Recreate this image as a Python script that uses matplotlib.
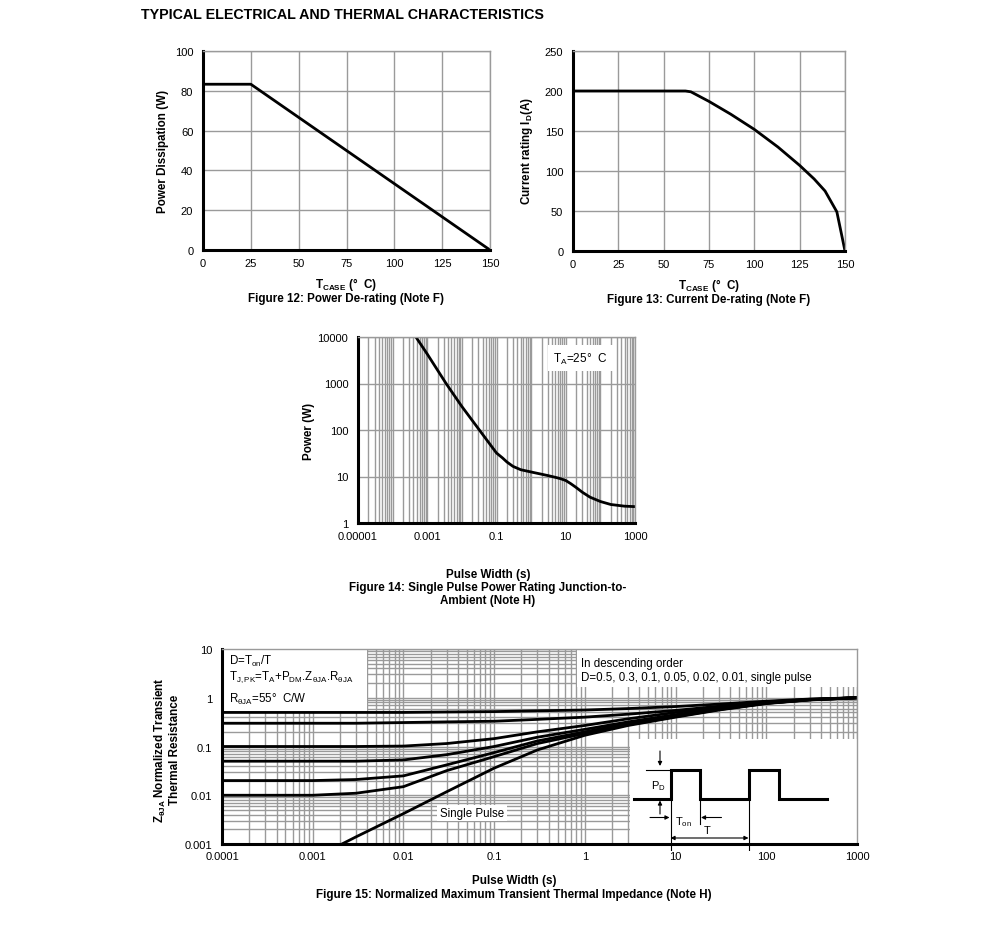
#!/usr/bin/env python3

import matplotlib
matplotlib.use("Agg")
import matplotlib.pyplot as plt
from matplotlib.patches import Rectangle
from matplotlib.ticker import LogLocator, NullFormatter

plt.rcParams['font.family'] = ['Liberation Sans', 'DejaVu Sans']
plt.rcParams['mathtext.fontset'] = 'custom'
plt.rcParams['mathtext.rm'] = 'Liberation Sans'
plt.rcParams['mathtext.bf'] = 'Liberation Sans:bold'
plt.rcParams['mathtext.it'] = 'Liberation Sans:italic'

W, H = 991, 953
GRID = '#9a9a9a'
LAB = 8.4   # bold axis labels / captions
TXT = 8.3   # annotation text

# figure 12: power de-rating
t12 = [0, 25, 150]
p12 = [83.3, 83.3, 0]

# figure 13: current de-rating
t13 = [0, 62, 65, 75, 87, 100, 113, 125, 133, 139, 145.5, 150]
i13 = [200, 200, 199, 187, 171, 152, 130, 107, 90, 75, 49, 0]

# figure 14: single pulse power rating
pw14 = [4.7e-4, 1e-3, 3.5e-3, 0.01, 0.032, 0.1, 0.15, 0.2, 0.3, 0.5, 1, 2, 3,
        5, 7, 10, 14, 20, 30, 50, 100, 200, 500, 1000]
pwr14 = [10000, 4300, 1000, 320, 100, 32, 25, 20.5, 16.5, 14, 12.5, 11.2, 10.5,
         9.6, 9.0, 8.2, 7.0, 5.8, 4.6, 3.6, 2.9, 2.5, 2.3, 2.25]
yt14 = [1, 10, 100, 1000, 10000]
yl14 = ['1', '10', '100', '1000', '10000']
xt14 = [1e-5, 1e-4, 1e-3, 1e-2, 1e-1, 1, 10, 100, 1000]
xl14 = ['0.00001', '', '0.001', '', '0.1', '', '10', '', '1000']

# figure 15: normalized transient thermal impedance
pw15 = [1e-4, 1e-3, 3e-3, 0.01, 0.03, 0.1, 0.3, 1, 3, 10, 30, 100, 300, 1000]
z_d05 = [0.5, 0.5, 0.5, 0.5, 0.51, 0.52, 0.54, 0.56, 0.6, 0.66, 0.74, 0.85, 0.94, 1.0]
z_d03 = [0.3, 0.3, 0.3, 0.31, 0.32, 0.33, 0.36, 0.4, 0.46, 0.55, 0.67, 0.82, 0.93, 1.0]
z_d01 = [0.1, 0.1, 0.1, 0.102, 0.115, 0.145, 0.2, 0.27, 0.37, 0.5, 0.64, 0.8, 0.92, 1.0]
z_d005 = [0.05, 0.05, 0.05, 0.053, 0.068, 0.1, 0.155, 0.225, 0.32, 0.45, 0.6, 0.78, 0.91, 1.0]
z_d002 = [0.02, 0.02, 0.021, 0.025, 0.042, 0.075, 0.13, 0.2, 0.3, 0.42, 0.58, 0.77, 0.91, 1.0]
z_d001 = [0.01, 0.01, 0.011, 0.015, 0.032, 0.062, 0.115, 0.185, 0.28, 0.41, 0.57, 0.77, 0.91, 1.0]
pw_single = [2.1e-3, 3e-3, 0.01, 0.03, 0.1, 0.3, 1, 3, 10, 30, 100, 300, 1000]
z_single = [0.001, 0.0014, 0.0042, 0.0118, 0.036, 0.085, 0.17, 0.27, 0.4, 0.56, 0.76, 0.9, 1.0]
xt15 = [1e-4, 1e-3, 1e-2, 1e-1, 1, 10, 100, 1000]
xl15 = ['0.0001', '0.001', '0.01', '0.1', '1', '10', '100', '1000']
yt15 = [0.001, 0.01, 0.1, 1, 10]
yl15 = ['0.001', '0.01', '0.1', '1', '10']


def rect(x0, y0, x1, y1):
    # pixel box (top-left origin) -> figure fraction [l, b, w, h]
    return [x0 / W, 1 - y1 / H, (x1 - x0) / W, (y1 - y0) / H]


def ftext(fig, x, y, s, **kw):
    fig.text(x / W, 1 - y / H, s, **kw)


def style(ax):
    ax.set_axisbelow(True)
    for side in ('left', 'bottom'):
        ax.spines[side].set_linewidth(2.2)
        ax.spines[side].set_color('black')
    for side in ('top', 'right'):
        ax.spines[side].set_linewidth(1)
        ax.spines[side].set_color(GRID)
    ax.tick_params(which='both', length=0, labelsize=8)
    ax.tick_params(axis='x', pad=6)
    ax.tick_params(axis='y', pad=7)


fig = plt.figure(figsize=(W / 100, H / 100), dpi=100)
ftext(fig, 141, 15, 'TYPICAL ELECTRICAL AND THERMAL CHARACTERISTICS',
      fontsize=10.3, fontweight='bold', va='center')

# ---- figure 12
ax = fig.add_axes(rect(203, 52, 490, 251))
ax.plot(t12, p12, color='black', lw=2)
ax.set_xlim(0, 150)
ax.set_ylim(0, 100)
ax.set_xticks([0, 25, 50, 75, 100, 125, 150])
ax.set_yticks([0, 20, 40, 60, 80, 100])
ax.grid(True, color=GRID, lw=1)
style(ax)
ftext(fig, 163, 151, 'Power Dissipation (W)', fontsize=LAB, fontweight='bold',
      rotation=90, ha='center', va='center')
ftext(fig, 346, 288.5, r'T$_\mathregular{CASE}$ (°  C)', fontsize=LAB,
      fontweight='bold', ha='center', va='baseline')
ftext(fig, 346, 302.5, 'Figure 12: Power De-rating (Note F)', fontsize=LAB,
      fontweight='bold', ha='center', va='baseline')

# ---- figure 13
ax = fig.add_axes(rect(573, 52, 845, 252))
ax.plot(t13, i13, color='black', lw=2)
ax.set_xlim(0, 150)
ax.set_ylim(0, 250)
ax.set_xticks([0, 25, 50, 75, 100, 125, 150])
ax.set_yticks([0, 50, 100, 150, 200, 250])
ax.grid(True, color=GRID, lw=1)
style(ax)
ftext(fig, 527, 151, r'Current rating I$_\mathregular{D}$(A)', fontsize=LAB,
      fontweight='bold', rotation=90, ha='center', va='center')
ftext(fig, 709, 289.5, r'T$_\mathregular{CASE}$ (°  C)', fontsize=LAB,
      fontweight='bold', ha='center', va='baseline')
ftext(fig, 709, 303.5, 'Figure 13: Current De-rating (Note F)', fontsize=LAB,
      fontweight='bold', ha='center', va='baseline')

# ---- figure 14
ax = fig.add_axes(rect(358, 338, 635, 524))
ax.plot(pw14, pwr14, color='black', lw=2, solid_joinstyle='round')
ax.set_xscale('log')
ax.set_yscale('log')
ax.set_xlim(1e-5, 1e3)
ax.set_ylim(1, 1e4)
ax.set_xticks(xt14, xl14)
ax.set_yticks(yt14, yl14)
ax.xaxis.set_minor_locator(LogLocator(base=10, subs=range(2, 10), numticks=100))
ax.xaxis.set_minor_formatter(NullFormatter())
ax.yaxis.set_minor_locator(LogLocator(base=10, subs=[]))
ax.grid(True, which='both', axis='x', color=GRID, lw=1)
ax.grid(True, which='major', axis='y', color=GRID, lw=1)
style(ax)
ax.add_patch(Rectangle((0.685, 0.815), 0.235, 0.14, transform=ax.transAxes,
                       facecolor='white', edgecolor='none', zorder=1))
ax.text(0.705, 0.885, r'T$_\mathregular{A}$=25°  C', transform=ax.transAxes,
        fontsize=8.5, va='center', zorder=3)
ftext(fig, 309, 431, 'Power (W)', fontsize=LAB, fontweight='bold',
      rotation=90, ha='center', va='center')
ftext(fig, 488, 575, 'Pulse Width (s)', fontsize=LAB, fontweight='bold',
      ha='center', va='center')
ftext(fig, 488, 588, 'Figure 14: Single Pulse Power Rating Junction-to-',
      fontsize=LAB, fontweight='bold', ha='center', va='center')
ftext(fig, 488, 601, 'Ambient (Note H)',
      fontsize=LAB, fontweight='bold', ha='center', va='center')

# ---- figure 15
ax = fig.add_axes(rect(222, 650, 857, 845))
for z in (z_d05, z_d03, z_d01, z_d005, z_d002, z_d001):
    ax.plot(pw15, z, color='black', lw=2, zorder=2, solid_joinstyle='round')
ax.plot(pw_single, z_single, color='black', lw=2, zorder=2, solid_joinstyle='round')
ax.set_xscale('log')
ax.set_yscale('log')
ax.set_xlim(1e-4, 1e3)
ax.set_ylim(1e-3, 10)
ax.xaxis.set_minor_locator(LogLocator(base=10, subs=range(2, 10), numticks=100))
ax.yaxis.set_minor_locator(LogLocator(base=10, subs=range(2, 10), numticks=100))
ax.xaxis.set_minor_formatter(NullFormatter())
ax.yaxis.set_minor_formatter(NullFormatter())
ax.grid(True, which='both', color=GRID, lw=1)
ax.set_xticks(xt15, xl15)
ax.set_yticks(yt15, yl15)
style(ax)
ax.tick_params(axis='x', pad=5)
for (x0, y0, w, h) in [(0, 0.677, 0.228, 0.323), (0.559, 0.805, 0.441, 0.195),
                       (0.643, 0, 0.357, 0.538), (0.339, 0.118, 0.11, 0.082)]:
    ax.add_patch(Rectangle((x0, y0), w, h, transform=ax.transAxes,
                           facecolor='white', edgecolor='none', zorder=1))
ax.text(0.011, 0.94, r'D=T$_\mathregular{on}$/T', transform=ax.transAxes,
        fontsize=TXT, va='center', zorder=3)
ax.text(0.011, 0.86, r'T$_\mathregular{J,PK}$=T$_\mathregular{A}$+P$_\mathregular{DM}$.'
        r'Z$_\mathregular{θJA}$.R$_\mathregular{θJA}$', transform=ax.transAxes,
        fontsize=TXT, va='center', zorder=3)
ax.text(0.011, 0.745, r'R$_\mathregular{θJA}$=55°  C/W', transform=ax.transAxes,
        fontsize=TXT, va='center', zorder=3)
ax.text(0.565, 0.93, 'In descending order', transform=ax.transAxes,
        fontsize=TXT, va='center', zorder=3)
ax.text(0.565, 0.855, 'D=0.5, 0.3, 0.1, 0.05, 0.02, 0.01, single pulse',
        transform=ax.transAxes, fontsize=TXT, va='center', zorder=3)
ax.text(0.344, 0.159, 'Single Pulse', transform=ax.transAxes,
        fontsize=TXT, va='center', zorder=3)
ftext(fig, 160, 750, r'Z$_\mathregular{θJA}$ Normalized Transient', fontsize=LAB,
      fontweight='bold', rotation=90, ha='center', va='center')
ftext(fig, 175, 750, 'Thermal Resistance', fontsize=LAB, fontweight='bold',
      rotation=90, ha='center', va='center')
ftext(fig, 514, 881, 'Pulse Width (s)', fontsize=LAB, fontweight='bold',
      ha='center', va='center')
ftext(fig, 514, 895, 'Figure 15: Normalized Maximum Transient Thermal Impedance (Note H)',
      fontsize=LAB, fontweight='bold', ha='center', va='center')

# pulse sketch inset, drawn in reference pixel units
ins = fig.add_axes(rect(625, 740, 857, 852))
ins.set_xlim(625, 857)
ins.set_ylim(852, 740)
ins.axis('off')
ins.patch.set_alpha(0)
wave_x = [634, 670.5, 670.5, 700, 700, 748.5, 748.5, 779, 779, 827]
wave_y = [799.5, 799.5, 770.5, 770.5, 800, 800, 770.5, 770.5, 800, 800]
ins.plot(wave_x, wave_y, color='black', lw=2.2, solid_joinstyle='miter')
ins.plot([646, 670.5], [771, 771], color='black', lw=0.8)
ins.plot([670.5, 670.5], [800, 852], color='black', lw=0.8)
ins.plot([748.5, 748.5], [800, 852], color='black', lw=0.8)
ins.plot([699.5, 699.5], [800, 825], color='black', lw=0.8)
arrow = dict(arrowstyle='-|>', color='black', lw=0.8, mutation_scale=6,
             shrinkA=0, shrinkB=0)
ins.annotate('', xy=(660, 767), xytext=(660, 752), arrowprops=arrow)
ins.annotate('', xy=(660, 801.5), xytext=(660, 815), arrowprops=arrow)
ins.annotate('', xy=(669.5, 818.5), xytext=(650, 818.5), arrowprops=arrow)
ins.annotate('', xy=(701, 818.5), xytext=(721.5, 818.5), arrowprops=arrow)
ins.annotate('', xy=(670.5, 839), xytext=(748.5, 839),
             arrowprops=dict(arrowstyle='<|-|>', color='black', lw=0.8,
                             mutation_scale=6, shrinkA=0, shrinkB=0))
ins.text(651, 786, r'P$_\mathregular{D}$', fontsize=8, va='center')
ins.text(675, 822, r'T$_\mathregular{on}$', fontsize=8, va='center')
ins.text(704, 831, 'T', fontsize=8, va='center')

fig.savefig('out.png', dpi=100)
